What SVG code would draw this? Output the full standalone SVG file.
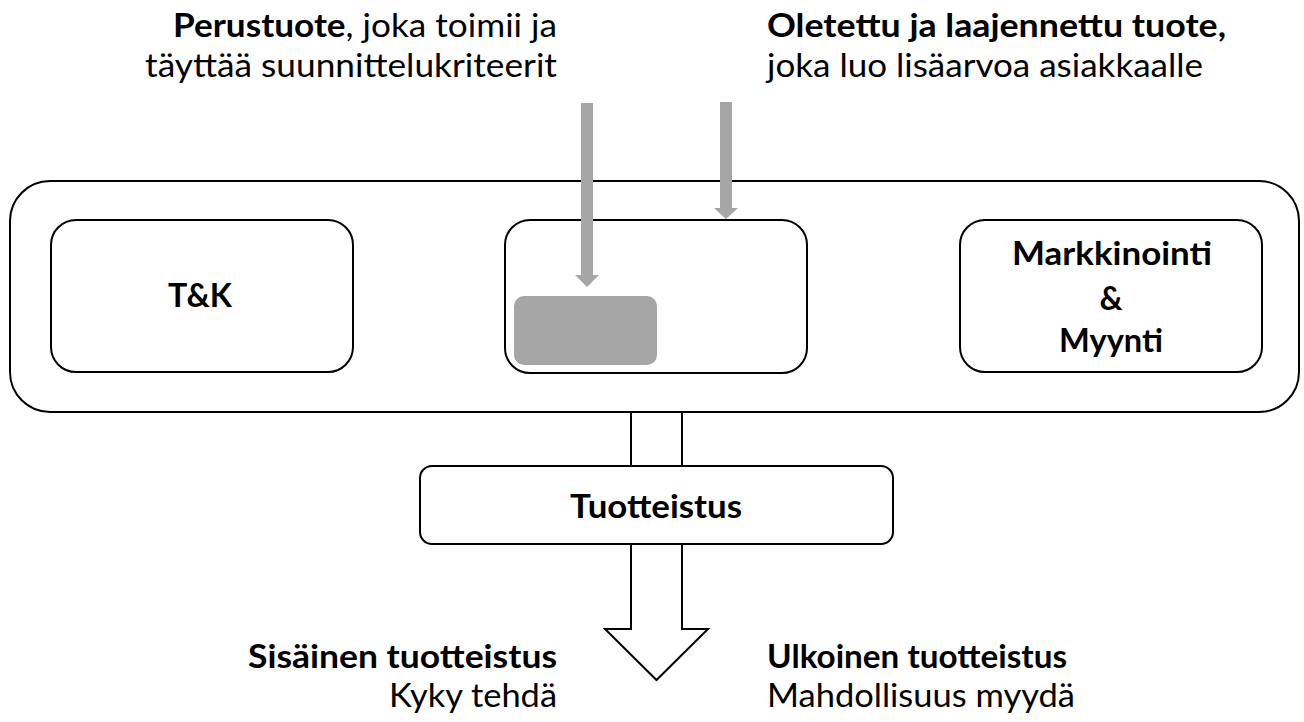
<svg xmlns="http://www.w3.org/2000/svg" width="1304" height="722" viewBox="0 0 1304 722">
  <style>
    .box { fill: #ffffff; stroke: #000000; stroke-width: 2; }
    .core { fill: #a6a6a6; stroke: none; }
    .feed { fill: #a6a6a6; stroke: none; }
    .flow { fill: #ffffff; stroke: #000000; stroke-width: 2; stroke-linejoin: miter; }
    text { font-family: Lato, "Open Sans", "Liberation Sans", sans-serif; font-size: 32px; fill: #000000; }
    .b { font-weight: 700; }
    .label { font-weight: 700; text-anchor: middle; }
  </style>

  <!-- captions above -->
  <g id="caption-basic">
    <text x="557" y="37" text-anchor="end" textLength="384" lengthAdjust="spacingAndGlyphs"><tspan class="b">Perustuote</tspan>, joka toimii ja</text>
    <text x="557" y="77" text-anchor="end" textLength="412" lengthAdjust="spacingAndGlyphs">täyttää suunnittelukriteerit</text>
  </g>
  <g id="caption-extended">
    <text x="767" y="37" class="b" textLength="459" lengthAdjust="spacingAndGlyphs">Oletettu ja laajennettu tuote,</text>
    <text x="767" y="77" textLength="436" lengthAdjust="spacingAndGlyphs">joka luo lisäarvoa asiakkaalle</text>
  </g>

  <!-- organisation frame -->
  <g id="organisation">
    <rect class="box" x="10" y="181" width="1289" height="231" rx="40" ry="40"/>
  </g>

  <g id="tk">
    <rect class="box" x="51" y="220" width="302" height="152" rx="25" ry="25"/>
    <text class="label" x="200" y="307" textLength="64" lengthAdjust="spacingAndGlyphs">T&amp;K</text>
  </g>

  <g id="product">
    <rect class="box" x="505" y="220" width="302" height="153" rx="25" ry="25"/>
    <rect class="core" x="514" y="296" width="143" height="69" rx="10" ry="10"/>
  </g>

  <g id="marketing">
    <rect class="box" x="960" y="220" width="302" height="152" rx="25" ry="25"/>
    <text class="label" x="1112" y="265" textLength="200" lengthAdjust="spacingAndGlyphs">Markkinointi</text>
    <text class="label" x="1111" y="310">&amp;</text>
    <text class="label" x="1111" y="352" textLength="104" lengthAdjust="spacingAndGlyphs">Myynti</text>
  </g>

  <!-- connectors -->
  <g id="connectors">
    <polygon class="feed" points="581,103 593,103 593,275 599,275 587,287 575,275 581,275"/>
    <polygon class="feed" points="720,102 732,102 732,208 738,208 726,219 714,208 720,208"/>
    <polygon class="flow" points="631,412 631,629 605,629 656.5,680 708,629 682,629 682,412"/>
  </g>

  <g id="productisation">
    <rect class="box" x="420" y="466" width="473" height="78" rx="12" ry="12"/>
    <text class="label" x="656" y="518" textLength="172" lengthAdjust="spacingAndGlyphs">Tuotteistus</text>
  </g>

  <!-- captions below -->
  <g id="caption-internal">
    <text x="557" y="668" text-anchor="end" class="b" textLength="309" lengthAdjust="spacingAndGlyphs">Sisäinen tuotteistus</text>
    <text x="557" y="707" text-anchor="end" textLength="168" lengthAdjust="spacingAndGlyphs">Kyky tehdä</text>
  </g>
  <g id="caption-external">
    <text x="767" y="668" class="b" textLength="300" lengthAdjust="spacingAndGlyphs">Ulkoinen tuotteistus</text>
    <text x="767" y="707" textLength="308" lengthAdjust="spacingAndGlyphs">Mahdollisuus myydä</text>
  </g>
</svg>
